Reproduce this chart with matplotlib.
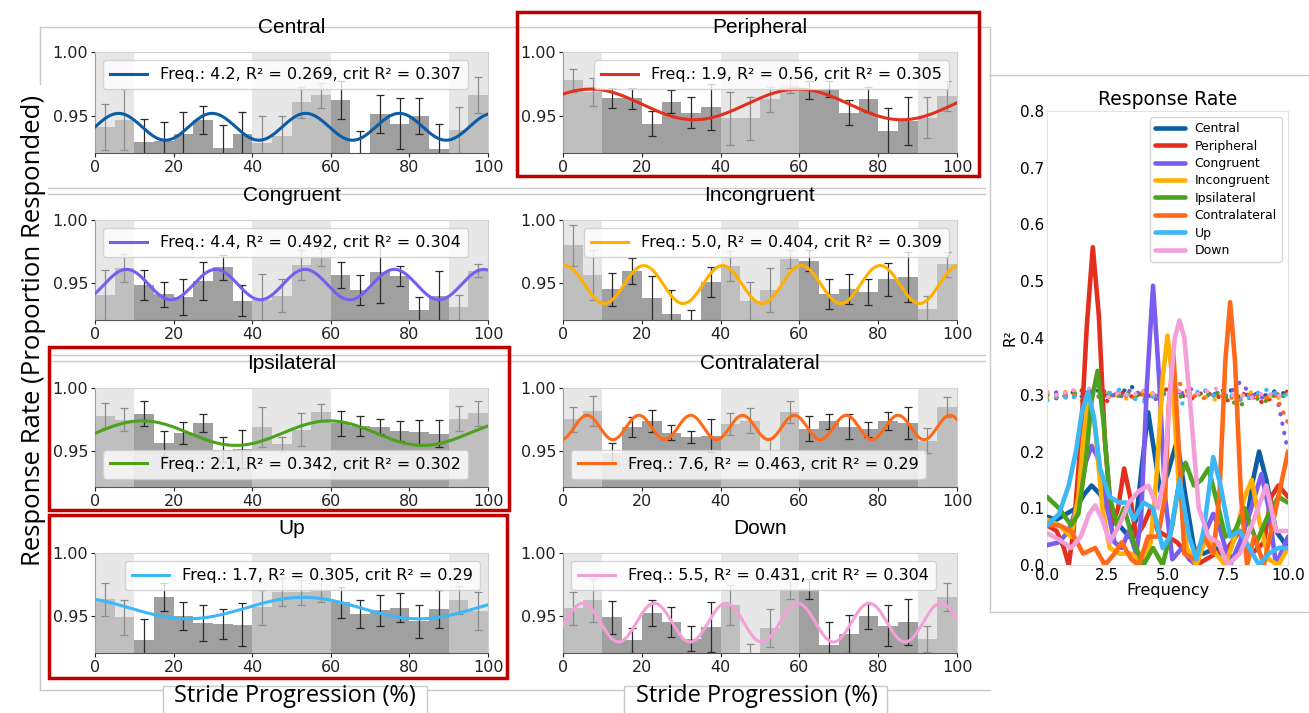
import numpy as np
import matplotlib
matplotlib.use("Agg")
import matplotlib.pyplot as plt
from matplotlib.lines import Line2D
from matplotlib.patches import Rectangle

W, H = 1309, 713

# ---------------------------------------------------------------- data
conditions = ["Central", "Peripheral", "Congruent", "Incongruent",
              "Ipsilateral", "Contralateral", "Up", "Down"]
colors = ["#0C5DA5", "#E3301E", "#7B5CF0", "#FFB000",
          "#4CA21C", "#FF6A1A", "#3BB8F5", "#F4A0D8"]

peak_freq = [4.2, 1.9, 4.4, 5.0, 2.1, 7.6, 1.7, 5.5]
peak_r2 = [0.269, 0.56, 0.492, 0.404, 0.342, 0.463, 0.305, 0.431]
crit_r2 = [0.307, 0.305, 0.304, 0.309, 0.302, 0.29, 0.29, 0.304]

# fitted sinusoid: mean level, amplitude, location of first crest (% stride)
fit_mean = [0.9415, 0.959, 0.949, 0.949, 0.964, 0.9685, 0.9565, 0.945]
fit_amp = [0.0105, 0.012, 0.012, 0.015, 0.0098, 0.0097, 0.0085, 0.0153]
fit_crest = [6.0, 7.0, 8.0, 0.5, 12.0, 6.1, 53.0, 5.0]

bin_start = list(range(0, 100, 5))  # 5 % stride bins

rate_central = [0.941, 0.947, 0.9295, 0.930, 0.9357, 0.947, 0.925, 0.936, 0.929, 0.934,
                0.9606, 0.966, 0.9624, 0.918, 0.9516, 0.944, 0.950, 0.9238, 0.939, 0.9663]
err_central = [0.018, 0.024, 0.018, 0.015, 0.017, 0.011, 0.018, 0.017, 0.021, 0.016,
               0.012, 0.010, 0.015, 0.020, 0.015, 0.020, 0.014, 0.020, 0.018, 0.014]

rate_peripheral = [0.978, 0.969, 0.964, 0.9637, 0.944, 0.961, 0.9526, 0.957, 0.948, 0.948,
                   0.963, 0.974, 0.970, 0.971, 0.9526, 0.963, 0.938, 0.946, 0.9487, 0.9655]
err_peripheral = [0.009, 0.011, 0.008, 0.008, 0.010, 0.009, 0.012, 0.018, 0.021, 0.017,
                  0.010, 0.006, 0.007, 0.006, 0.010, 0.010, 0.018, 0.019, 0.016, 0.012]

rate_congruent = [0.9408, 0.9618, 0.9487, 0.9413, 0.939, 0.952, 0.9626, 0.9363, 0.937, 0.940,
                  0.9645, 0.971, 0.9566, 0.9447, 0.9592, 0.956, 0.929, 0.940, 0.931, 0.960]
err_congruent = [0.020, 0.011, 0.012, 0.010, 0.014, 0.015, 0.010, 0.012, 0.020, 0.013,
                 0.012, 0.007, 0.010, 0.012, 0.025, 0.008, 0.010, 0.020, 0.010, 0.005]

rate_incongruent = [0.980, 0.9566, 0.9453, 0.9597, 0.938, 0.926, 0.919, 0.951, 0.9637, 0.936,
                    0.9447, 0.969, 0.968, 0.9416, 0.9453, 0.943, 0.953, 0.955, 0.930, 0.965]
err_incongruent = [0.016, 0.020, 0.013, 0.010, 0.018, 0.019, 0.010, 0.012, 0.012, 0.015,
                   0.017, 0.007, 0.008, 0.012, 0.012, 0.010, 0.013, 0.020, 0.010, 0.010]

rate_ipsilateral = [0.9779, 0.9747, 0.9795, 0.956, 0.964, 0.972, 0.9508, 0.9513, 0.969, 0.955,
                    0.9668, 0.9806, 0.972, 0.970, 0.969, 0.9654, 0.9646, 0.9636, 0.9755, 0.980]
err_ipsilateral = [0.010, 0.009, 0.010, 0.010, 0.009, 0.007, 0.010, 0.015, 0.016, 0.006,
                   0.013, 0.007, 0.010, 0.008, 0.006, 0.008, 0.010, 0.011, 0.010, 0.010]

rate_contralateral = [0.975, 0.982, 0.948, 0.9688, 0.9735, 0.9642, 0.961, 0.962, 0.9714, 0.974,
                      0.950, 0.981, 0.9675, 0.9735, 0.969, 0.967, 0.9735, 0.972, 0.958, 0.9847]
err_contralateral = [0.010, 0.012, 0.008, 0.008, 0.009, 0.006, 0.005, 0.013, 0.009, 0.010,
                     0.010, 0.009, 0.010, 0.006, 0.010, 0.006, 0.007, 0.013, 0.010, 0.008]

rate_up = [0.9635, 0.9492, 0.931, 0.965, 0.950, 0.9448, 0.944, 0.9435, 0.957, 0.9695,
           0.969, 0.9703, 0.961, 0.952, 0.9547, 0.9568, 0.946, 0.956, 0.963, 0.9544]
err_up = [0.013, 0.014, 0.017, 0.011, 0.011, 0.014, 0.012, 0.017, 0.014, 0.011,
          0.010, 0.009, 0.012, 0.011, 0.012, 0.0115, 0.013, 0.015, 0.011, 0.015]

rate_down = [0.9565, 0.9625, 0.9492, 0.931, 0.9526, 0.9456, 0.9323, 0.9414, 0.959, 0.918,
             0.9404, 0.9716, 0.9716, 0.9273, 0.936, 0.950, 0.9427, 0.9453, 0.932, 0.9651]
err_down = [0.013, 0.017, 0.013, 0.010, 0.010, 0.012, 0.010, 0.020, 0.016, 0.010,
            0.015, 0.008, 0.008, 0.018, 0.015, 0.010, 0.016, 0.018, 0.010, 0.011]

rates = [rate_central, rate_peripheral, rate_congruent, rate_incongruent,
         rate_ipsilateral, rate_contralateral, rate_up, rate_down]
errs = [err_central, err_peripheral, err_congruent, err_incongruent,
        err_ipsilateral, err_contralateral, err_up, err_down]

# periodogram (R² against frequency) for each condition
spec_f_central = [0, 0.4, 0.8, 1.2, 1.55, 1.85, 2.2, 2.6, 3.0, 3.4, 3.7, 3.95, 4.2, 4.45, 4.7,
                  5.0, 5.4, 5.75, 6.1, 6.5, 7.0, 7.5, 7.9, 8.3, 8.55, 8.8, 9.1, 9.5, 10.0]
spec_r2_central = [0.085, 0.08, 0.09, 0.10, 0.125, 0.14, 0.125, 0.09, 0.07, 0.05, 0.08, 0.18, 0.269,
                   0.20, 0.13, 0.16, 0.22, 0.12, 0.03, 0.02, 0.03, 0.01, 0.02, 0.08, 0.15, 0.20,
                   0.15, 0.06, 0.03]
spec_f_peripheral = [0, 0.4, 0.7, 0.9, 1.1, 1.4, 1.65, 1.9, 2.15, 2.4, 2.7, 2.95, 3.2, 3.45, 3.7,
                     4.0, 4.3, 4.6, 5.0, 5.4, 5.8, 6.2, 6.6, 7.0, 7.5, 8.0, 8.5, 9.0, 9.3, 9.6, 10.0]
spec_r2_peripheral = [0.07, 0.06, 0.03, 0.0, 0.06, 0.22, 0.42, 0.56, 0.44, 0.22, 0.07, 0.10, 0.17,
                      0.12, 0.05, 0.07, 0.10, 0.06, 0.05, 0.04, 0.02, 0.0, 0.01, 0.02, 0.03, 0.06,
                      0.02, 0.04, 0.12, 0.14, 0.12]
spec_f_congruent = [0, 0.5, 0.9, 1.3, 1.6, 1.85, 2.1, 2.4, 2.8, 3.1, 3.4, 3.7, 3.9, 4.15, 4.4,
                    4.65, 4.9, 5.2, 5.6, 5.9, 6.2, 6.6, 6.9, 7.2, 7.6, 8.0, 8.4, 8.9, 9.2, 9.5, 10.0]
spec_r2_congruent = [0.035, 0.04, 0.06, 0.11, 0.18, 0.21, 0.19, 0.12, 0.04, 0.03, 0.06, 0.02, 0.08,
                     0.32, 0.492, 0.33, 0.12, 0.01, 0.03, 0.01, 0.0, 0.06, 0.09, 0.06, 0.0, 0.04,
                     0.09, 0.16, 0.10, 0.0, 0.05]
spec_f_incongruent = [0, 0.5, 1.0, 1.3, 1.5, 1.75, 2.0, 2.3, 2.6, 3.0, 3.5, 4.0, 4.3, 4.55, 4.8,
                      5.0, 5.2, 5.45, 5.8, 6.2, 6.6, 7.0, 7.4, 7.8, 8.2, 8.5, 8.8, 9.2, 9.6, 10.0]
spec_r2_incongruent = [0.08, 0.07, 0.05, 0.12, 0.22, 0.30, 0.24, 0.10, 0.03, 0.02, 0.02, 0.0, 0.04,
                       0.16, 0.33, 0.404, 0.33, 0.15, 0.03, 0.0, 0.05, 0.02, 0.0, 0.05, 0.12, 0.15,
                       0.08, 0.01, 0.0, 0.03]
spec_f_ipsilateral = [0, 0.5, 1.0, 1.3, 1.6, 1.85, 2.1, 2.35, 2.6, 2.9, 3.2, 3.6, 4.0, 4.4, 4.8,
                      5.2, 5.5, 5.75, 6.1, 6.4, 6.7, 7.0, 7.4, 7.8, 8.2, 8.7, 9.2, 9.6, 10.0]
spec_r2_ipsilateral = [0.12, 0.10, 0.07, 0.09, 0.18, 0.29, 0.342, 0.25, 0.12, 0.07, 0.10, 0.04, 0.0,
                       0.03, 0.0, 0.07, 0.15, 0.18, 0.14, 0.15, 0.17, 0.12, 0.05, 0.06, 0.10, 0.04,
                       0.09, 0.12, 0.11]
spec_f_contralateral = [0, 0.5, 1.0, 1.5, 2.0, 2.4, 2.8, 3.1, 3.5, 3.8, 4.2, 4.6, 4.9, 5.05, 5.25,
                        5.45, 5.7, 6.1, 6.5, 6.9, 7.15, 7.4, 7.6, 7.8, 8.05, 8.3, 8.6, 9.0, 9.4,
                        9.7, 10.0]
spec_r2_contralateral = [0.07, 0.07, 0.06, 0.02, 0.03, 0.0, 0.02, 0.04, 0.01, 0.0, 0.05, 0.05, 0.12,
                         0.28, 0.37, 0.22, 0.02, 0.01, 0.05, 0.02, 0.12, 0.36, 0.463, 0.36, 0.12,
                         0.0, 0.05, 0.0, 0.08, 0.14, 0.20]
spec_f_up = [0, 0.5, 0.9, 1.2, 1.45, 1.7, 1.95, 2.2, 2.6, 3.0, 3.3, 3.6, 4.0, 4.4, 4.8, 5.1, 5.5,
             5.9, 6.2, 6.5, 6.9, 7.2, 7.6, 8.0, 8.4, 8.8, 9.2, 9.6, 10.0]
spec_r2_up = [0.07, 0.09, 0.14, 0.20, 0.27, 0.305, 0.26, 0.17, 0.12, 0.11, 0.11, 0.08, 0.11, 0.10,
              0.03, 0.05, 0.15, 0.05, 0.01, 0.06, 0.19, 0.14, 0.05, 0.06, 0.03, 0.0, 0.02, 0.03,
              0.03]
spec_f_down = [0, 0.5, 1.0, 1.4, 1.75, 2.0, 2.3, 2.6, 3.0, 3.4, 3.8, 4.2, 4.6, 4.85, 5.1, 5.3,
               5.5, 5.7, 5.95, 6.3, 6.7, 7.1, 7.5, 8.0, 8.5, 9.1, 9.5, 10.0]
spec_r2_down = [0.056, 0.045, 0.03, 0.05, 0.09, 0.105, 0.08, 0.04, 0.07, 0.11, 0.13, 0.14, 0.10,
                0.15, 0.30, 0.40, 0.431, 0.40, 0.28, 0.10, 0.05, 0.04, 0.0, 0.02, 0.07, 0.14,
                0.06, 0.06]

spec_f = [spec_f_central, spec_f_peripheral, spec_f_congruent, spec_f_incongruent,
          spec_f_ipsilateral, spec_f_contralateral, spec_f_up, spec_f_down]
spec_r2 = [spec_r2_central, spec_r2_peripheral, spec_r2_congruent, spec_r2_incongruent,
           spec_r2_ipsilateral, spec_r2_contralateral, spec_r2_up, spec_r2_down]

# critical R² (permutation threshold) along frequency
crit_f = [0, 0.5, 1.0, 1.5, 2.0, 2.5, 3.0, 3.5, 4.0, 4.5, 5.0,
          5.5, 6.0, 6.5, 7.0, 7.5, 8.0, 8.5, 9.0, 9.5, 10.0]
crit_central = [0.300, 0.292, 0.305, 0.296, 0.310, 0.298, 0.302, 0.315, 0.290, 0.306, 0.299,
                0.304, 0.296, 0.308, 0.300, 0.312, 0.295, 0.303, 0.298, 0.307, 0.300]
crit_peripheral = [0.305, 0.298, 0.293, 0.310, 0.300, 0.289, 0.306, 0.297, 0.302, 0.295, 0.311,
                   0.300, 0.293, 0.305, 0.298, 0.290, 0.304, 0.296, 0.285, 0.300, 0.306]
crit_congruent = [0.298, 0.306, 0.300, 0.294, 0.318, 0.302, 0.295, 0.309, 0.299, 0.292, 0.305,
                  0.301, 0.310, 0.296, 0.303, 0.298, 0.322, 0.300, 0.294, 0.305, 0.200]
crit_incongruent = [0.294, 0.301, 0.309, 0.299, 0.290, 0.304, 0.297, 0.291, 0.306, 0.300, 0.295,
                    0.309, 0.302, 0.297, 0.291, 0.300, 0.296, 0.305, 0.299, 0.293, 0.301]
crit_ipsilateral = [0.302, 0.295, 0.300, 0.307, 0.293, 0.301, 0.298, 0.304, 0.292, 0.300, 0.307,
                    0.296, 0.303, 0.299, 0.305, 0.293, 0.280, 0.298, 0.287, 0.300, 0.296]
crit_contralateral = [0.290, 0.297, 0.303, 0.288, 0.298, 0.295, 0.305, 0.292, 0.300, 0.296, 0.288,
                      0.320, 0.299, 0.294, 0.301, 0.297, 0.290, 0.303, 0.294, 0.299, 0.250]
crit_up = [0.290, 0.299, 0.293, 0.304, 0.296, 0.302, 0.309, 0.295, 0.287, 0.300, 0.305, 0.280,
           0.300, 0.310, 0.296, 0.302, 0.291, 0.297, 0.310, 0.303, 0.298]
crit_down = [0.304, 0.298, 0.310, 0.300, 0.322, 0.296, 0.303, 0.298, 0.308, 0.300, 0.294, 0.306,
             0.299, 0.304, 0.311, 0.298, 0.300, 0.295, 0.303, 0.297, 0.302]
crit_curves = [crit_central, crit_peripheral, crit_congruent, crit_incongruent,
               crit_ipsilateral, crit_contralateral, crit_up, crit_down]

legend_loc = ["upper left", "upper right", "upper left", "upper right",
              "lower left", "lower left", "upper right", "upper left"]
shade_spans = [(0, 10), (40, 60), (90, 100)]

# ---------------------------------------------------------------- figure
fig = plt.figure(figsize=(W / 100, H / 100), dpi=100)
fig.patch.set_facecolor("white")


def axes_px(x0, y0, x1, y1):
    return fig.add_axes([x0 / W, 1 - y1 / H, (x1 - x0) / W, (y1 - y0) / H])


def fig_line(x0, y0, x1, y1, color="#c9c9c9", lw=1.0, z=0):
    fig.add_artist(Line2D([x0 / W, x1 / W], [1 - y0 / H, 1 - y1 / H],
                          transform=fig.transFigure, color=color, lw=lw, zorder=z))


def fig_box(x0, y0, x1, y1, edge, lw, face="none", z=10):
    fig.add_artist(Rectangle((x0 / W, 1 - y1 / H), (x1 - x0) / W, (y1 - y0) / H,
                             transform=fig.transFigure, facecolor=face,
                             edgecolor=edge, lw=lw, zorder=z))


# light frame lines of the panel block
fig_line(40, 27, 990, 27)
fig_line(40, 27, 40, 690)
fig_line(40, 690, 990, 690)
fig_line(990, 27, 990, 75)
for yy in (188, 194, 355, 361):
    fig_line(45, yy, 985, yy)
# frame of the periodogram block
fig_line(990, 75, 1309, 75)
fig_line(990, 75, 990, 612)
fig_line(990, 612, 1309, 612)

col_x = [(95, 488), (563, 957)]
row_y = [(52, 153), (220, 320), (388, 487), (553, 653)]

stride = np.linspace(0, 100, 400)

for i, name in enumerate(conditions):
    r, c = divmod(i, 2)
    ax = axes_px(col_x[c][0], row_y[r][0], col_x[c][1], row_y[r][1])
    ax.bar(bin_start, rates[i], width=5, align="edge", color="#a0a0a0",
           yerr=errs[i], zorder=2,
           error_kw=dict(ecolor="#2a2a2a", elinewidth=0.9, capsize=3, capthick=0.9))
    for a, b in shade_spans:
        ax.axvspan(a, b, color="#d6d6d6", alpha=0.58, lw=0, zorder=3)
    fit = fit_mean[i] + fit_amp[i] * np.cos(2 * np.pi * peak_freq[i] * (stride - fit_crest[i]) / 100)
    label = f"Freq.: {peak_freq[i]:.1f}, R² = {peak_r2[i]}, crit R² = {crit_r2[i]}"
    ax.plot(stride, fit, color=colors[i], lw=2.2, zorder=4, label=label)
    ax.set_xlim(0, 100)
    ax.set_ylim(0.921, 1.0)
    ax.set_xticks([0, 20, 40, 60, 80, 100])
    ax.set_yticks([0.95, 1.00])
    ax.set_yticklabels(["0.95", "1.00"])
    ax.tick_params(labelsize=11.5, length=3, width=0.8, pad=2, colors="#222222")
    for side in ("top", "right"):
        ax.spines[side].set_color("#cfcfcf")
    for side in ("left", "bottom"):
        ax.spines[side].set_color("#555555")
    ax.set_title(name, fontsize=15, family="Liberation Sans", pad=14)
    leg = ax.legend(loc=legend_loc[i], fontsize=11.5, handlelength=2.3,
                    borderpad=0.45, framealpha=0.8)
    leg.set_zorder(6)

# white label boxes over the frame
fig_box(10, 85, 48, 600, edge="none", lw=0, face="white", z=1)
fig.text(34 / W, 1 - 330 / H, "Response Rate (Proportion Responded)", rotation=90,
         ha="center", va="center", fontsize=18.5, family="Open Sans")
for cx, bx0, bx1 in ((295, 163, 427), (757, 624, 887)):
    fig_box(bx0, 686, bx1, 720, edge="#c9c9c9", lw=1, face="white", z=1)
    fig.text(cx / W, 1 - 696 / H, "Stride Progression (%)", ha="center", va="center",
             fontsize=17, family="Open Sans")

# red highlight frames
fig_box(517, 12, 979, 176, edge="#C00000", lw=2.5, z=20)
fig_box(49, 347, 509, 510, edge="#C00000", lw=2.5, z=20)
fig_box(49, 515, 507, 678, edge="#C00000", lw=2.5, z=20)

# ---------------------------------------------------------------- periodogram
axr = axes_px(1047, 111, 1288, 565)
for i, name in enumerate(conditions):
    axr.plot(spec_f[i], spec_r2[i], color=colors[i], lw=3.3, label=name,
             solid_joinstyle="round", solid_capstyle="round", zorder=3)
for i in range(len(conditions)):
    axr.plot(crit_f, crit_curves[i], color=colors[i], lw=3,
             linestyle=(0, (0.1, 2.2)), dash_capstyle="round", zorder=2)
axr.set_xlim(0, 10)
axr.set_ylim(0, 0.8)
axr.set_xticks([0, 2.5, 5, 7.5, 10])
axr.set_xticklabels(["0.0", "2.5", "5.0", "7.5", "10.0"])
axr.set_yticks(np.arange(0, 0.81, 0.1))
axr.set_yticklabels([f"{v:.1f}" for v in np.arange(0, 0.81, 0.1)])
axr.tick_params(labelsize=11, length=0, pad=2)
for s in axr.spines.values():
    s.set_color("#e2e2e2")
axr.set_title("Response Rate", fontsize=13.5, pad=4)
axr.set_xlabel("Frequency", fontsize=11.5, labelpad=0)
axr.set_ylabel("R²", fontsize=11, labelpad=2)
axr.legend(loc="upper right", fontsize=9, handlelength=2.4, borderpad=0.4,
           labelspacing=0.35, framealpha=0.8)

fig.savefig("out.png", dpi=100)
